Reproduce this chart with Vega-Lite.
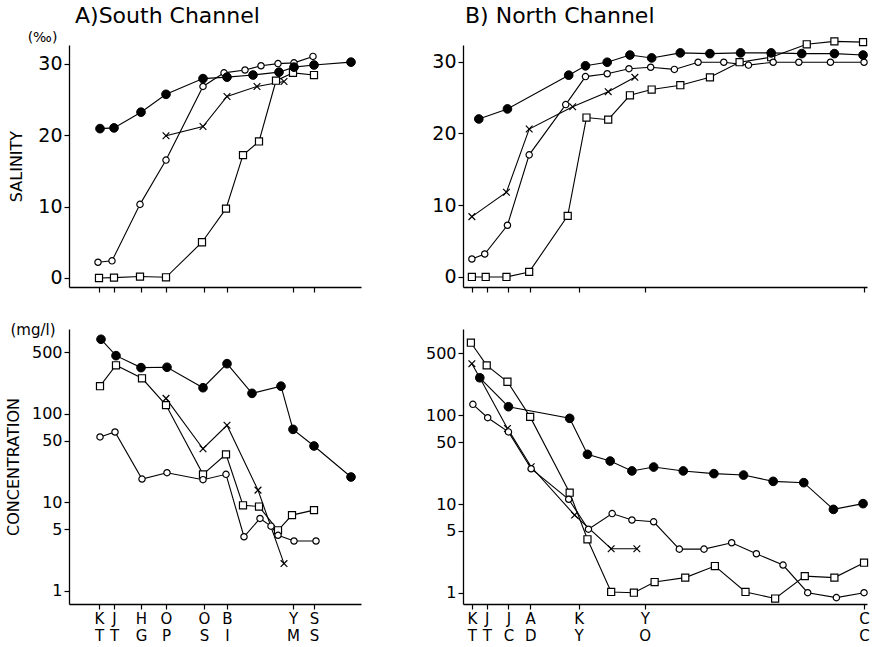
{
  "$schema": "https://vega.github.io/schema/vega-lite/v6.json",
  "padding": {"left": 5, "top": 5, "right": 0, "bottom": 0},
  "background": "white",
  "config": {
    "view": {"stroke": null},
    "font": "DejaVu Sans",
    "axis": {"grid": false, "domainColor": "black", "tickColor": "black", "labelColor": "black", "titleColor": "black", "labelFont": "DejaVu Sans", "titleFont": "DejaVu Sans", "labelFontSize": 17, "titleFontSize": 16, "titleFontWeight": "normal", "tickSize": 5, "domainWidth": 1.3, "tickWidth": 1.2, "labelPadding": 2, "labelOverlap": false, "labelFlush": false},
    "title": {"font": "DejaVu Sans", "fontWeight": "normal", "color": "black"}
  },
  "datasets": {
    "sal_s": [
      {"series": "filled", "km": 0.1, "v": 20.9}, {"series": "filled", "km": 1.5, "v": 21.0}, {"series": "filled", "km": 4.2, "v": 23.2}, {"series": "filled", "km": 6.7, "v": 25.7}, {"series": "filled", "km": 10.4, "v": 27.9}, {"series": "filled", "km": 12.8, "v": 28.1}, {"series": "filled", "km": 15.4, "v": 28.4}, {"series": "filled", "km": 18.0, "v": 28.8}, {"series": "filled", "km": 19.5, "v": 29.5}, {"series": "filled", "km": 21.5, "v": 29.8}, {"series": "filled", "km": 25.2, "v": 30.2},
      {"series": "open", "km": -0.1, "v": 2.2}, {"series": "open", "km": 1.3, "v": 2.4}, {"series": "open", "km": 4.1, "v": 10.3}, {"series": "open", "km": 6.7, "v": 16.5}, {"series": "open", "km": 10.4, "v": 26.8}, {"series": "open", "km": 12.5, "v": 28.7}, {"series": "open", "km": 14.6, "v": 29.1}, {"series": "open", "km": 16.2, "v": 29.7}, {"series": "open", "km": 17.9, "v": 30.0}, {"series": "open", "km": 19.5, "v": 30.1}, {"series": "open", "km": 21.4, "v": 31.0},
      {"series": "square", "km": 0.0, "v": 0.0}, {"series": "square", "km": 1.5, "v": 0.05}, {"series": "square", "km": 4.1, "v": 0.2}, {"series": "square", "km": 6.7, "v": 0.1}, {"series": "square", "km": 10.3, "v": 5.0}, {"series": "square", "km": 12.7, "v": 9.7}, {"series": "square", "km": 14.4, "v": 17.2}, {"series": "square", "km": 16.0, "v": 19.1}, {"series": "square", "km": 17.7, "v": 27.6}, {"series": "square", "km": 19.4, "v": 28.7}, {"series": "square", "km": 21.5, "v": 28.4},
      {"series": "cross", "km": 6.7, "v": 19.9}, {"series": "cross", "km": 10.4, "v": 21.2}, {"series": "cross", "km": 12.8, "v": 25.4}, {"series": "cross", "km": 15.8, "v": 26.8}, {"series": "cross", "km": 18.5, "v": 27.5}
    ],
    "sal_n": [
      {"series": "filled", "km": 0.7, "v": 22.0}, {"series": "filled", "km": 3.6, "v": 23.4}, {"series": "filled", "km": 9.8, "v": 28.1}, {"series": "filled", "km": 11.5, "v": 29.4}, {"series": "filled", "km": 13.7, "v": 29.9}, {"series": "filled", "km": 16.0, "v": 30.9}, {"series": "filled", "km": 18.2, "v": 30.5}, {"series": "filled", "km": 21.1, "v": 31.2}, {"series": "filled", "km": 24.1, "v": 31.1}, {"series": "filled", "km": 27.2, "v": 31.2}, {"series": "filled", "km": 30.3, "v": 31.2}, {"series": "filled", "km": 33.4, "v": 31.1}, {"series": "filled", "km": 36.7, "v": 31.1}, {"series": "filled", "km": 39.6, "v": 30.9},
      {"series": "open", "km": 0.0, "v": 2.5}, {"series": "open", "km": 1.3, "v": 3.2}, {"series": "open", "km": 3.6, "v": 7.2}, {"series": "open", "km": 5.8, "v": 17.0}, {"series": "open", "km": 9.5, "v": 24.0}, {"series": "open", "km": 11.5, "v": 27.9}, {"series": "open", "km": 13.7, "v": 28.3}, {"series": "open", "km": 15.9, "v": 29.0}, {"series": "open", "km": 18.1, "v": 29.2}, {"series": "open", "km": 20.5, "v": 28.9}, {"series": "open", "km": 22.9, "v": 29.9}, {"series": "open", "km": 25.5, "v": 29.9}, {"series": "open", "km": 28.0, "v": 29.5}, {"series": "open", "km": 30.5, "v": 29.9}, {"series": "open", "km": 33.1, "v": 29.9}, {"series": "open", "km": 36.3, "v": 29.9}, {"series": "open", "km": 39.7, "v": 29.9},
      {"series": "square", "km": 0.0, "v": 0.0}, {"series": "square", "km": 1.4, "v": 0.0}, {"series": "square", "km": 3.5, "v": 0.0}, {"series": "square", "km": 5.8, "v": 0.7}, {"series": "square", "km": 9.7, "v": 8.5}, {"series": "square", "km": 11.6, "v": 22.2}, {"series": "square", "km": 13.8, "v": 21.9}, {"series": "square", "km": 16.0, "v": 25.3}, {"series": "square", "km": 18.2, "v": 26.1}, {"series": "square", "km": 21.1, "v": 26.7}, {"series": "square", "km": 24.1, "v": 27.8}, {"series": "square", "km": 27.1, "v": 29.9}, {"series": "square", "km": 30.3, "v": 30.6}, {"series": "square", "km": 33.9, "v": 32.4}, {"series": "square", "km": 36.7, "v": 32.8}, {"series": "square", "km": 39.6, "v": 32.7},
      {"series": "cross", "km": 0.0, "v": 8.4}, {"series": "cross", "km": 3.5, "v": 11.8}, {"series": "cross", "km": 5.8, "v": 20.6}, {"series": "cross", "km": 10.2, "v": 23.7}, {"series": "cross", "km": 13.8, "v": 25.8}, {"series": "cross", "km": 16.5, "v": 27.8}
    ],
    "con_s": [
      {"series": "filled", "km": 0.2, "v": 698}, {"series": "filled", "km": 1.7, "v": 456}, {"series": "filled", "km": 4.2, "v": 334}, {"series": "filled", "km": 6.8, "v": 337}, {"series": "filled", "km": 10.4, "v": 198}, {"series": "filled", "km": 12.8, "v": 370}, {"series": "filled", "km": 15.3, "v": 171}, {"series": "filled", "km": 18.2, "v": 206}, {"series": "filled", "km": 19.4, "v": 67}, {"series": "filled", "km": 21.5, "v": 43.5}, {"series": "filled", "km": 25.2, "v": 19.4},
      {"series": "square", "km": 0.1, "v": 206}, {"series": "square", "km": 1.7, "v": 355}, {"series": "square", "km": 4.3, "v": 253}, {"series": "square", "km": 6.7, "v": 126}, {"series": "square", "km": 10.4, "v": 20.8}, {"series": "square", "km": 12.7, "v": 35}, {"series": "square", "km": 14.4, "v": 9.3}, {"series": "square", "km": 16.0, "v": 9.0}, {"series": "square", "km": 17.9, "v": 4.85}, {"series": "square", "km": 19.3, "v": 7.2}, {"series": "square", "km": 21.5, "v": 8.2},
      {"series": "open", "km": 0.1, "v": 55}, {"series": "open", "km": 1.6, "v": 62.6}, {"series": "open", "km": 4.3, "v": 18.4}, {"series": "open", "km": 6.8, "v": 21.7}, {"series": "open", "km": 10.4, "v": 18.1}, {"series": "open", "km": 12.7, "v": 20.8}, {"series": "open", "km": 14.5, "v": 4.1}, {"series": "open", "km": 16.1, "v": 6.6}, {"series": "open", "km": 17.2, "v": 5.4}, {"series": "open", "km": 17.9, "v": 4.26}, {"series": "open", "km": 19.5, "v": 3.67}, {"series": "open", "km": 21.7, "v": 3.67},
      {"series": "cross", "km": 6.7, "v": 150}, {"series": "cross", "km": 10.4, "v": 40.5}, {"series": "cross", "km": 12.8, "v": 74.5}, {"series": "cross", "km": 15.9, "v": 13.8}, {"series": "cross", "km": 18.5, "v": 2.04}
    ],
    "con_n": [
      {"series": "filled", "km": 0.8, "v": 265}, {"series": "filled", "km": 3.7, "v": 125}, {"series": "filled", "km": 9.9, "v": 92.5}, {"series": "filled", "km": 11.7, "v": 36.3}, {"series": "filled", "km": 14.0, "v": 30.5}, {"series": "filled", "km": 16.2, "v": 23.6}, {"series": "filled", "km": 18.4, "v": 26.1}, {"series": "filled", "km": 21.4, "v": 23.6}, {"series": "filled", "km": 24.5, "v": 22.0}, {"series": "filled", "km": 27.5, "v": 21.2}, {"series": "filled", "km": 30.5, "v": 18.0}, {"series": "filled", "km": 33.6, "v": 17.4}, {"series": "filled", "km": 36.6, "v": 8.7}, {"series": "filled", "km": 39.6, "v": 10.1},
      {"series": "square", "km": -0.1, "v": 658}, {"series": "square", "km": 1.5, "v": 366}, {"series": "square", "km": 3.6, "v": 239}, {"series": "square", "km": 5.9, "v": 96}, {"series": "square", "km": 9.9, "v": 13.4}, {"series": "square", "km": 11.7, "v": 4.0}, {"series": "square", "km": 14.1, "v": 1.02}, {"series": "square", "km": 16.4, "v": 1.0}, {"series": "square", "km": 18.5, "v": 1.32}, {"series": "square", "km": 21.6, "v": 1.48}, {"series": "square", "km": 24.6, "v": 2.0}, {"series": "square", "km": 27.7, "v": 1.02}, {"series": "square", "km": 30.7, "v": 0.86}, {"series": "square", "km": 33.7, "v": 1.54}, {"series": "square", "km": 36.7, "v": 1.48}, {"series": "square", "km": 39.7, "v": 2.18},
      {"series": "open", "km": 0.1, "v": 133}, {"series": "open", "km": 1.6, "v": 94}, {"series": "open", "km": 3.7, "v": 65}, {"series": "open", "km": 6.0, "v": 25}, {"series": "open", "km": 9.8, "v": 11.3}, {"series": "open", "km": 11.8, "v": 5.2}, {"series": "open", "km": 14.2, "v": 7.8}, {"series": "open", "km": 16.2, "v": 6.6}, {"series": "open", "km": 18.4, "v": 6.3}, {"series": "open", "km": 21.0, "v": 3.1}, {"series": "open", "km": 23.5, "v": 3.1}, {"series": "open", "km": 26.3, "v": 3.66}, {"series": "open", "km": 28.8, "v": 2.75}, {"series": "open", "km": 31.5, "v": 2.05}, {"series": "open", "km": 34.0, "v": 1.0}, {"series": "open", "km": 36.9, "v": 0.88}, {"series": "open", "km": 39.7, "v": 1.0},
      {"series": "cross", "km": 0.0, "v": 382}, {"series": "cross", "km": 0.8, "v": 265}, {"series": "cross", "km": 3.6, "v": 71}, {"series": "cross", "km": 6.0, "v": 26.3}, {"series": "cross", "km": 10.4, "v": 7.5}, {"series": "cross", "km": 14.1, "v": 3.13}, {"series": "cross", "km": 16.7, "v": 3.13}
    ]
  },
  "columns": 2,
  "bounds": "flush",
  "align": "each",
  "spacing": {"column": 102, "row": 42},
  "concat": [
    {
      "width": 292, "height": 242,
      "title": {"text": "A)South Channel", "anchor": "start", "frame": "group", "fontSize": 22, "dx": 6, "offset": 2},
      "data": {"name": "sal_s"},
      "resolve": {"axis": {"y": "independent"}},
      "encoding": {
        "x": {"field": "km", "type": "quantitative", "scale": {"domain": [-3, 26.2], "nice": false, "zero": false}, "axis": {"values": [0, 1.5, 4.2, 6.7, 10.5, 12.8, 19.4, 21.5], "labels": false, "title": null}}
      },
      "layer": [
        {"mark": {"type": "line", "color": "black", "strokeWidth": 1.1}, "encoding": {"detail": {"field": "series"}, "y": {"field": "v", "type": "quantitative", "scale": {"domain": [-1.26, 32.6], "nice": false, "zero": false}, "axis": {"values": [0, 10, 20, 30], "labelFontSize": 19, "title": "SALINITY", "titlePadding": 13}}}},
        {"transform": [{"filter": "datum.series == 'cross'"}], "mark": {"type": "point", "shape": "M-1,-1L1,1M-1,1L1,-1", "filled": false, "stroke": "black", "strokeWidth": 1.2, "size": 45, "opacity": 1}, "encoding": {"y": {"field": "v", "type": "quantitative", "axis": {"orient": "left", "title": "(‰)", "labels": false, "ticks": false, "domain": false, "titleAngle": 0, "titleFontSize": 14, "titleAlign": "center", "titleBaseline": "bottom", "titleX": -27, "titleY": -1}}}},
        {"transform": [{"filter": "datum.series == 'square'"}], "mark": {"type": "point", "shape": "square", "filled": true, "fill": "white", "stroke": "black", "strokeWidth": 1.2, "size": 50, "opacity": 1}, "encoding": {"y": {"field": "v", "type": "quantitative", "axis": null}}},
        {"transform": [{"filter": "datum.series == 'open'"}], "mark": {"type": "point", "shape": "circle", "filled": true, "fill": "white", "stroke": "black", "strokeWidth": 1.2, "size": 40, "opacity": 1}, "encoding": {"y": {"field": "v", "type": "quantitative", "axis": null}}},
        {"transform": [{"filter": "datum.series == 'filled'"}], "mark": {"type": "point", "shape": "circle", "filled": true, "fill": "black", "stroke": "black", "strokeWidth": 1, "size": 75, "opacity": 1}, "encoding": {"y": {"field": "v", "type": "quantitative", "axis": null}}}
      ]
    },
    {
      "width": 404, "height": 242,
      "title": {"text": "B) North Channel", "anchor": "start", "frame": "group", "fontSize": 22, "dx": 2, "offset": 7},
      "data": {"name": "sal_n"},
      "encoding": {
        "x": {"field": "km", "type": "quantitative", "scale": {"domain": [-0.9, 40.0], "nice": false, "zero": false}, "axis": {"values": [0, 1.5, 3.7, 5.9, 10.8, 17.5, 39.7], "labels": false, "title": null}},
        "y": {"field": "v", "type": "quantitative", "scale": {"domain": [-1.4, 32.3], "nice": false, "zero": false}, "axis": {"values": [0, 10, 20, 30], "labelFontSize": 19, "title": null}}
      },
      "layer": [
        {"mark": {"type": "line", "color": "black", "strokeWidth": 1.1}, "encoding": {"detail": {"field": "series"}}},
        {"transform": [{"filter": "datum.series == 'cross'"}], "mark": {"type": "point", "shape": "M-1,-1L1,1M-1,1L1,-1", "filled": false, "stroke": "black", "strokeWidth": 1.2, "size": 45, "opacity": 1}},
        {"transform": [{"filter": "datum.series == 'square'"}], "mark": {"type": "point", "shape": "square", "filled": true, "fill": "white", "stroke": "black", "strokeWidth": 1.2, "size": 50, "opacity": 1}},
        {"transform": [{"filter": "datum.series == 'open'"}], "mark": {"type": "point", "shape": "circle", "filled": true, "fill": "white", "stroke": "black", "strokeWidth": 1.2, "size": 40, "opacity": 1}},
        {"transform": [{"filter": "datum.series == 'filled'"}], "mark": {"type": "point", "shape": "circle", "filled": true, "fill": "black", "stroke": "black", "strokeWidth": 1, "size": 75, "opacity": 1}}
      ]
    },
    {
      "width": 292, "height": 275,
      "title": {"text": "(mg/l)", "anchor": "start", "frame": "bounds", "fontSize": 15, "offset": -9, "dx": 5},
      "data": {"name": "con_s"},
      "encoding": {
        "x": {"field": "km", "type": "quantitative", "scale": {"domain": [-3, 26.2], "nice": false, "zero": false}, "axis": {"values": [0, 1.5, 4.2, 6.7, 10.5, 12.8, 19.4, 21.5], "title": null, "labelFontSize": 15, "labelLineHeight": 17, "labelExpr": "datum.value == 0 ? ['K','T'] : datum.value == 1.5 ? ['J','T'] : datum.value == 4.2 ? ['H','G'] : datum.value == 6.7 ? ['O','P'] : datum.value == 10.5 ? ['O','S'] : datum.value == 12.8 ? ['B','I'] : datum.value == 19.4 ? ['Y','M'] : ['S','S']"}},
        "y": {"field": "v", "type": "quantitative", "scale": {"type": "log", "domain": [0.713, 912], "nice": false, "zero": false}, "axis": {"values": [1, 5, 10, 50, 100, 500], "format": "d", "labelFontSize": 16, "title": "CONCENTRATION", "titlePadding": 10}}
      },
      "layer": [
        {"mark": {"type": "line", "color": "black", "strokeWidth": 1.1}, "encoding": {"detail": {"field": "series"}}},
        {"transform": [{"filter": "datum.series == 'cross'"}], "mark": {"type": "point", "shape": "M-1,-1L1,1M-1,1L1,-1", "filled": false, "stroke": "black", "strokeWidth": 1.2, "size": 45, "opacity": 1}},
        {"transform": [{"filter": "datum.series == 'square'"}], "mark": {"type": "point", "shape": "square", "filled": true, "fill": "white", "stroke": "black", "strokeWidth": 1.2, "size": 50, "opacity": 1}},
        {"transform": [{"filter": "datum.series == 'open'"}], "mark": {"type": "point", "shape": "circle", "filled": true, "fill": "white", "stroke": "black", "strokeWidth": 1.2, "size": 40, "opacity": 1}},
        {"transform": [{"filter": "datum.series == 'filled'"}], "mark": {"type": "point", "shape": "circle", "filled": true, "fill": "black", "stroke": "black", "strokeWidth": 1, "size": 75, "opacity": 1}}
      ]
    },
    {
      "width": 404, "height": 275,
      "data": {"name": "con_n"},
      "encoding": {
        "x": {"field": "km", "type": "quantitative", "scale": {"domain": [-0.9, 40.0], "nice": false, "zero": false}, "axis": {"values": [0, 1.5, 3.7, 5.9, 10.8, 17.5, 39.7], "title": null, "labelFontSize": 15, "labelLineHeight": 17, "labelExpr": "datum.value == 0 ? ['K','T'] : datum.value == 1.5 ? ['J','T'] : datum.value == 3.7 ? ['J','C'] : datum.value == 5.9 ? ['A','D'] : datum.value == 10.8 ? ['K','Y'] : datum.value == 17.5 ? ['Y','O'] : ['C','C']"}},
        "y": {"field": "v", "type": "quantitative", "scale": {"type": "log", "domain": [0.746, 940], "nice": false, "zero": false}, "axis": {"values": [1, 5, 10, 50, 100, 500], "format": "d", "labelFontSize": 16, "title": null}}
      },
      "layer": [
        {"mark": {"type": "line", "color": "black", "strokeWidth": 1.1}, "encoding": {"detail": {"field": "series"}}},
        {"transform": [{"filter": "datum.series == 'cross'"}], "mark": {"type": "point", "shape": "M-1,-1L1,1M-1,1L1,-1", "filled": false, "stroke": "black", "strokeWidth": 1.2, "size": 45, "opacity": 1}},
        {"transform": [{"filter": "datum.series == 'square'"}], "mark": {"type": "point", "shape": "square", "filled": true, "fill": "white", "stroke": "black", "strokeWidth": 1.2, "size": 50, "opacity": 1}},
        {"transform": [{"filter": "datum.series == 'open'"}], "mark": {"type": "point", "shape": "circle", "filled": true, "fill": "white", "stroke": "black", "strokeWidth": 1.2, "size": 40, "opacity": 1}},
        {"transform": [{"filter": "datum.series == 'filled'"}], "mark": {"type": "point", "shape": "circle", "filled": true, "fill": "black", "stroke": "black", "strokeWidth": 1, "size": 75, "opacity": 1}}
      ]
    }
  ]
}
